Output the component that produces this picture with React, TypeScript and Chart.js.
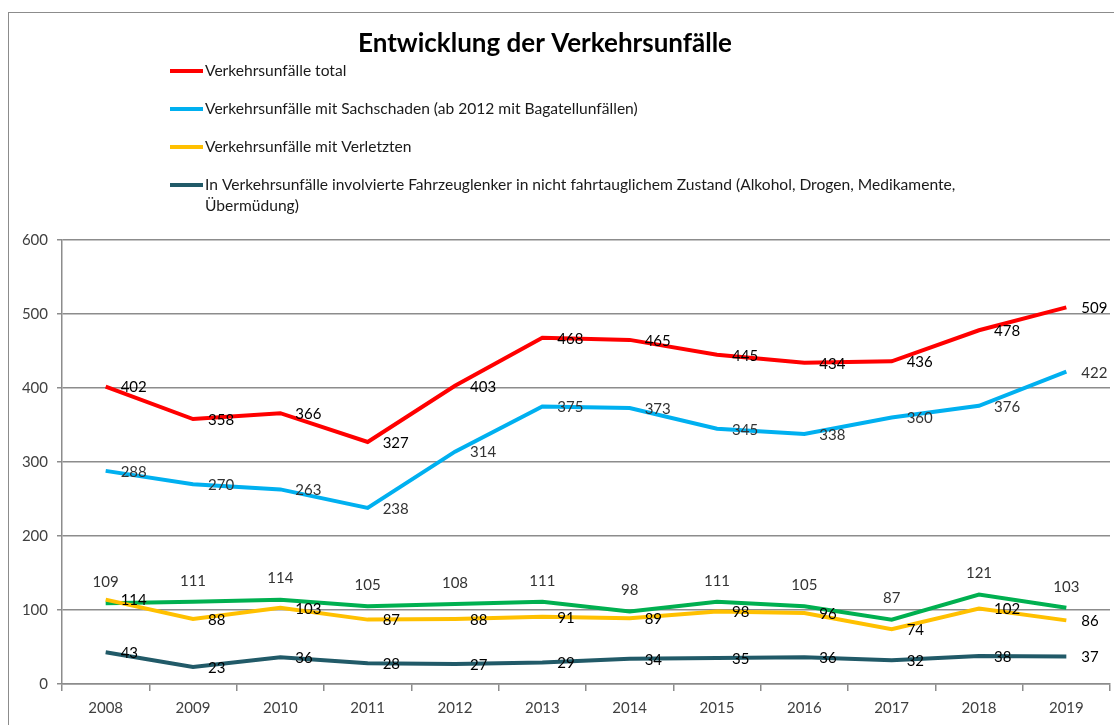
import React, { useEffect, useRef } from "react";
import { Chart, registerables } from "chart.js";

Chart.register(...registerables);

const years = ["2008", "2009", "2010", "2011", "2012", "2013", "2014", "2015", "2016", "2017", "2018", "2019"];
const unfaelleTotal = [402, 358, 366, 327, 403, 468, 465, 445, 434, 436, 478, 509];
const unfaelleSachschaden = [288, 270, 263, 238, 314, 375, 373, 345, 338, 360, 376, 422];
const unfaelleVerletzte = [114, 88, 103, 87, 88, 91, 89, 98, 96, 74, 102, 86];
const fahrzeuglenkerUntauglich = [43, 23, 36, 28, 27, 29, 34, 35, 36, 32, 38, 37];
const weitereSerie = [109, 111, 114, 105, 108, 111, 98, 111, 105, 87, 121, 103];

const titleText = "Entwicklung der Verkehrsunfälle";
const legendTotal = "Verkehrsunfälle total";
const legendSachschaden = "Verkehrsunfälle mit Sachschaden (ab 2012 mit Bagatellunfällen)";
const legendVerletzte = "Verkehrsunfälle mit Verletzten";
const legendUntauglich =
  "In Verkehrsunfälle involvierte Fahrzeuglenker in nicht fahrtauglichem Zustand (Alkohol, Drogen, Medikamente, Übermüdung)";

const FONT = "Lato, 'Liberation Sans', sans-serif";
const GRID = "#8c8c8c";

function wrapText(ctx: CanvasRenderingContext2D, text: string, maxW: number): string[] {
  const words = text.split(" ");
  const lines: string[] = [];
  let cur = "";
  for (const w of words) {
    const test = cur ? cur + " " + w : w;
    if (ctx.measureText(test).width > maxW && cur) {
      lines.push(cur);
      cur = w;
    } else cur = test;
  }
  if (cur) lines.push(cur);
  return lines;
}

const valueLabelPlugin = {
  id: "valueLabels",
  afterDatasetsDraw(chart: any) {
    const ctx: CanvasRenderingContext2D = chart.ctx;
    chart.data.datasets.forEach((ds: any, i: number) => {
      const meta = chart.getDatasetMeta(i);
      ctx.save();
      ctx.font = `15px ${FONT}`;
      ctx.fillStyle = ds.labelColor || "#000";
      ctx.textBaseline = "middle";
      meta.data.forEach((pt: any, j: number) => {
        const v = String(ds.data[j]);
        if (ds.labelPos === "above") {
          ctx.textAlign = "center";
          ctx.fillText(v, pt.x, pt.y - 21);
        } else {
          ctx.textAlign = "left";
          ctx.fillText(v, pt.x + 15, pt.y + 1);
        }
      });
      ctx.restore();
    });
  },
};

const titleLegendPlugin = {
  id: "titleLegend",
  afterDraw(chart: any) {
    const ctx: CanvasRenderingContext2D = chart.ctx;
    ctx.save();
    ctx.fillStyle = "#000";
    ctx.textBaseline = "middle";
    ctx.textAlign = "center";
    ctx.font = `bold 26px ${FONT}`;
    ctx.fillText(titleText, 545, 44);

    ctx.font = `15.6px ${FONT}`;
    ctx.textAlign = "left";
    ctx.fillStyle = "#1a1a1a";
    let y = 71;
    chart.data.datasets.forEach((ds: any) => {
      if (ds.hideInLegend) return;
      ctx.strokeStyle = ds.borderColor;
      ctx.lineWidth = 4;
      ctx.beginPath();
      ctx.moveTo(170, y);
      ctx.lineTo(203, y);
      ctx.stroke();
      const lines = wrapText(ctx, ds.label, 790);
      lines.forEach((ln, k) => ctx.fillText(ln, 205, y + k * 21));
      y += 38 + (lines.length - 1) * 21;
    });
    ctx.restore();
  },
};

export default function App() {
  const canvasRef = useRef<HTMLCanvasElement | null>(null);

  useEffect(() => {
    if (!canvasRef.current) return;
    const mk = (label: string, data: number[], color: string, labelPos: string, labelColor: string, hideInLegend = false) => ({
      label,
      data,
      borderColor: color,
      backgroundColor: color,
      borderWidth: 4,
      pointRadius: 0,
      tension: 0,
      fill: false,
      labelPos,
      labelColor,
      hideInLegend,
    });
    const chart = new Chart(canvasRef.current, {
      type: "line",
      data: {
        labels: years,
        datasets: [
          mk(legendTotal, unfaelleTotal, "#ff0000", "right", "#000"),
          mk(legendSachschaden, unfaelleSachschaden, "#00b0f0", "right", "#333"),
          mk(legendVerletzte, unfaelleVerletzte, "#ffc000", "right", "#000"),
          mk(legendUntauglich, fahrzeuglenkerUntauglich, "#215a68", "right", "#000"),
          mk("Weitere Serie", weitereSerie, "#00b050", "above", "#333", true),
        ] as any,
      },
      options: {
        animation: false,
        responsive: true,
        maintainAspectRatio: false,
        layout: { padding: { top: 240, right: 4, left: 0, bottom: 0 } },
        plugins: {
          legend: { display: false },
          title: { display: false },
          tooltip: { enabled: false },
        },
        scales: {
          x: {
            offset: true,
            grid: {
              offset: true,
              drawOnChartArea: false,
              drawTicks: true,
              tickLength: 7,
              color: GRID,
              lineWidth: 1.5,
            },
            border: { color: GRID, width: 1.5 },
            ticks: {
              font: { size: 15, family: FONT },
              color: "#404040",
              padding: 8,
              maxRotation: 0,
              autoSkip: false,
            },
            afterFit: (s: any) => {
              s.height = 41;
            },
          },
          y: {
            min: 0,
            max: 600,
            grid: { color: GRID, lineWidth: 1.5, tickLength: 5 },
            border: { color: GRID, width: 1.5 },
            ticks: {
              stepSize: 100,
              font: { size: 15, family: FONT },
              color: "#404040",
              padding: 9,
            },
            afterFit: (s: any) => {
              s.width = 62;
            },
          },
        },
      } as any,
      plugins: [valueLabelPlugin, titleLegendPlugin],
    });
    return () => chart.destroy();
  }, []);

  return (
    <div
      style={{
        position: "fixed",
        left: 0,
        top: 0,
        width: 1114,
        height: 725,
        overflow: "hidden",
        background: "#fff",
      }}
    >
      <div
        style={{
          position: "absolute",
          left: 8,
          top: 12,
          width: 1200,
          height: 800,
          border: "1.5px solid #8c8c8c",
        }}
      />
      <div style={{ position: "absolute", left: 0, top: 0, width: 1114, height: 725 }}>
        <canvas ref={canvasRef} />
      </div>
    </div>
  );
}
